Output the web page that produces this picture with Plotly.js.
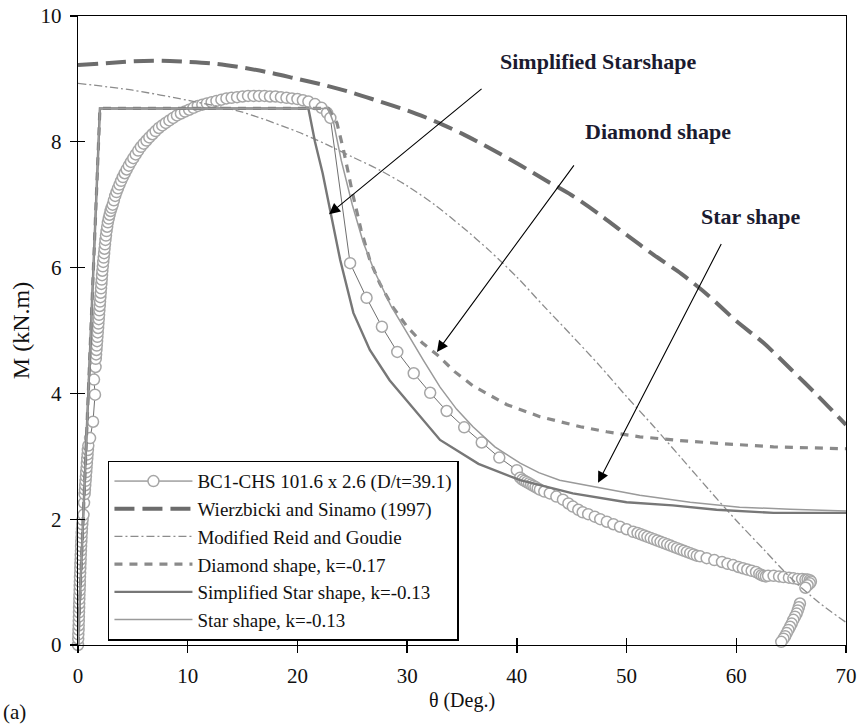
<!DOCTYPE html>
<html><head><meta charset="utf-8">
<script src="https://cdn.plot.ly/plotly-3.0.1.min.js"></script>
<style>html,body{margin:0;padding:0;background:#fff}#chart{width:857px;height:725px}</style>
</head><body><div id="chart"></div>
<script>
// ---------- data ----------
const xTicks = [0,10,20,30,40,50,60,70];
const yTicks = [0,2,4,6,8,10];

const expName = 'BC1-CHS 101.6 x 2.6 (D/t=39.1)';
const expTheta = [0,0.02,0.03,0.05,0.06,0.07,0.08,0.09,0.1,0.11,0.12,0.13,0.15,0.16,0.17,0.18,0.2,0.21,0.22,0.24,0.25,0.27,0.28,0.3,0.32,0.34,0.36,0.39,0.42,
 0.5,0.55,0.6,0.63,0.66,0.69,0.72,0.75,0.78,0.81,0.84,0.87,0.9,0.94,
 1.1,1.37,1.55,1.46,1.6,
 1.62,1.65,1.68,1.71,1.74,1.77,1.8,1.83,1.86,1.89,1.92,1.95,1.98,2.01,2.04,2.07,2.1,2.13,2.16,2.19,2.22,2.26,2.3,2.34,2.38,2.42,2.46,2.5,2.55,2.6,2.66,2.72,2.8,2.88,2.97,3.06,
 3.16,3.27,3.39,3.51,3.64,3.78,3.93,4.09,4.26,4.44,4.63,4.83,5.04,5.26,5.49,5.73,5.98,6.24,6.5,6.78,7.07,7.37,7.68,8.0,8.33,8.67,9.02,9.38,9.75,10.13,10.52,10.92,11.33,11.75,12.18,12.62,13.07,13.53,14.0,14.5,15.0,15.5,16.0,16.5,17.0,17.5,18.0,18.5,19.0,19.5,20.0,20.5,21.0,21.6,22.2,22.7,23.0,
 24.8,26.3,27.7,29.1,30.6,32.1,33.6,35.2,36.8,38.4,40.0,
 40.3,40.5,40.7,40.9,41.1,41.3,41.5,41.7,41.9,42.1,42.5,43.0,43.6,44.2,44.7,45.1,45.6,46.0,46.5,47.1,47.6,48.2,48.8,49.4,50.0,50.6,51.0,51.3,51.6,51.9,52.2,52.5,52.8,53.1,53.4,53.7,54.0,54.3,54.6,54.9,55.2,55.5,55.8,56.1,56.4,56.7,57.3,58.0,58.7,59.2,59.7,60.2,60.6,61.0,61.4,61.8,62.1,62.3,62.5,62.7,62.9,63.4,63.9,64.3,64.8,65.2,65.6,66.0,66.3,66.5,66.7,66.8,66.7,66.5,66.3,
 null,
 65.8,65.7,65.6,65.5,65.35,65.2,65.05,64.9,64.75,64.6,64.45,64.3,64.1];
const expM = [0,0.1,0.17,0.24,0.31,0.38,0.45,0.52,0.59,0.66,0.73,0.8,0.87,0.94,1.01,1.08,1.15,1.22,1.29,1.36,1.43,1.5,1.57,1.64,1.71,1.78,1.85,1.92,1.99,
 2.07,2.26,2.4,2.47,2.54,2.61,2.68,2.75,2.82,2.89,2.96,3.03,3.1,3.17,
 3.29,3.55,3.98,4.22,4.42,
 4.55,4.62,4.69,4.76,4.83,4.9,4.97,5.04,5.11,5.18,5.25,5.32,5.39,5.46,5.53,5.6,5.67,5.74,5.81,5.88,5.95,6.02,6.09,6.16,6.23,6.3,6.37,6.44,6.51,6.58,6.65,6.72,6.78,6.84,6.9,6.95,
 7.0,7.07,7.14,7.2,7.26,7.32,7.38,7.44,7.5,7.56,7.62,7.68,7.74,7.8,7.86,7.92,7.97,8.02,8.07,8.12,8.17,8.22,8.26,8.3,8.34,8.38,8.42,8.45,8.48,8.51,8.54,8.57,8.59,8.61,8.63,8.65,8.67,8.69,8.7,8.71,8.72,8.73,8.73,8.73,8.73,8.72,8.72,8.71,8.7,8.69,8.68,8.66,8.64,8.6,8.54,8.46,8.38,
 6.07,5.52,5.06,4.66,4.32,4.01,3.72,3.46,3.22,2.98,2.78,
 2.66,2.63,2.61,2.59,2.57,2.55,2.53,2.51,2.49,2.47,2.44,2.41,2.36,2.31,2.25,2.2,2.15,2.11,2.08,2.04,2.0,1.96,1.92,1.88,1.84,1.8,1.78,1.76,1.74,1.72,1.7,1.68,1.66,1.64,1.62,1.6,1.58,1.56,1.54,1.52,1.5,1.48,1.46,1.44,1.42,1.41,1.38,1.35,1.32,1.29,1.27,1.24,1.22,1.2,1.18,1.16,1.13,1.11,1.1,1.09,1.1,1.1,1.09,1.08,1.07,1.06,1.05,1.05,1.04,1.04,1.03,1.01,0.98,0.95,0.91,
 null,
 0.66,0.6,0.55,0.5,0.45,0.4,0.34,0.29,0.24,0.19,0.14,0.1,0.05];

const wsName = 'Wierzbicki and Sinamo (1997)';
const wsTheta = [0,2.5,5,7.5,10,12.5,15,17.5,20,22.5,25,27.5,30,32.5,35,37.5,40,42.5,45,47.5,50,52.5,55,57.5,60,62.5,65,67.5,70];
const wsM     = [9.22,9.25,9.28,9.29,9.27,9.24,9.18,9.1,9.0,8.9,8.78,8.64,8.5,8.33,8.13,7.9,7.66,7.4,7.15,6.85,6.52,6.2,5.9,5.55,5.15,4.8,4.38,3.95,3.5];

const rgName = 'Modified Reid and Goudie';
const rgTheta = [0,5,10,15,20,22.5,25,27.5,30,32.5,35,37.5,40,42.5,45,47.5,50,52.5,55,57.5,60,62.5,65,67.5,70];
const rgM     = [8.93,8.82,8.66,8.47,8.16,7.97,7.76,7.55,7.3,7.0,6.65,6.27,5.85,5.38,4.92,4.45,3.95,3.47,2.97,2.47,1.98,1.52,1.06,0.68,0.36];

const dmName = 'Diamond shape, k=-0.17';
const dmTheta = [0,2.0,21.0,22.8,23.6,24.2,25.0,25.8,26.6,27.5,28.7,30.0,31.4,32.7,34.3,36.0,39.1,42.1,45.8,48.2,51.2,54.9,58.8,63.4,70];
const dmM     = [0,8.53,8.53,8.53,8.3,7.87,7.2,6.6,6.12,5.75,5.37,5.06,4.8,4.62,4.35,4.12,3.82,3.63,3.47,3.39,3.31,3.25,3.2,3.15,3.12];

const ssName = 'Simplified Star shape, k=-0.13';
const ssTheta = [0,2.0,21.0,21.6,22.3,23.0,23.9,25.1,26.6,28.4,30.9,33.0,36.5,40.3,45.1,50.0,54.2,58.2,63.4,70];
const ssM     = [0,8.53,8.53,8.0,7.5,6.87,6.12,5.28,4.69,4.21,3.69,3.26,2.88,2.62,2.41,2.27,2.22,2.15,2.1,2.1];

const stName = 'Star shape, k=-0.13';
const stTheta = [0,2.0,22.8,23.3,24.0,25.0,26.0,27.0,28.5,30.0,31.5,33.0,34.5,36.0,38.0,40.3,42.0,43.9,47.3,51.2,55.8,60.3,64.9,70];
const stM     = [0,8.53,8.53,8.3,7.7,7.0,6.4,5.95,5.4,4.95,4.52,4.1,3.75,3.47,3.15,2.89,2.74,2.62,2.51,2.38,2.27,2.19,2.16,2.13];

// ---------- chart ----------
const FONT = 'Liberation Serif, Times New Roman, serif';
const traces = [
  {name: expName, x: expTheta, y: expM, type:'scatter', mode:'lines+markers', cliponaxis:false,
   line:{color:'#6f6f6f', width:1}, connectgaps:false,
   marker:{symbol:'circle', size:11, color:'#ffffff', line:{color:'#a6a6a6', width:1.5}}},
  {name: wsName, x: wsTheta, y: wsM, type:'scatter', mode:'lines',
   line:{color:'#6c6c6c', width:4, dash:'20px,8px', shape:'spline', smoothing:0.8}},
  {name: rgName, x: rgTheta, y: rgM, type:'scatter', mode:'lines',
   line:{color:'#8c8c8c', width:1.3, dash:'8px,3px,2px,3px', shape:'spline', smoothing:0.8}},
  {name: dmName, x: dmTheta, y: dmM, type:'scatter', mode:'lines',
   line:{color:'#8a8a8a', width:3.2, dash:'8px,7px'}},
  {name: ssName, x: ssTheta, y: ssM, type:'scatter', mode:'lines',
   line:{color:'#777777', width:2.4}},
  {name: stName, x: stTheta, y: stM, type:'scatter', mode:'lines',
   line:{color:'#9a9a9a', width:1.5}},
  {x:[null], y:[null], xaxis:'x2', yaxis:'y2', showlegend:false, hoverinfo:'skip', mode:'lines'}
];

const axBase = {showgrid:false, zeroline:false, tickcolor:'#000', tickwidth:1.3, ticklen:7};
const layout = {
  width:857, height:725,
  margin:{l:78, r:11, t:16, b:80},
  paper_bgcolor:'#ffffff', plot_bgcolor:'#ffffff',
  font:{family:FONT, size:21, color:'#111'},
  showlegend:true,
  legend:{x:0.039, y:0.293, xanchor:'left', yanchor:'top', bgcolor:'#ffffff',
          bordercolor:'#000', borderwidth:1.5, font:{family:FONT, size:19, color:'#111'},
          itemwidth:78, tracegroupgap:0},
  xaxis:Object.assign({}, axBase, {range:[0,70], tickvals:xTicks, ticktext:xTicks.map(String), ticks:'outside',
          showline:true, linecolor:'#000', linewidth:1.3, mirror:true, ticklabelstandoff:4,
          tickfont:{family:FONT, size:21, color:'#111'},
          title:{text:'θ (Deg.)', font:{family:FONT, size:20, color:'#111'}, standoff:6}}),
  yaxis:Object.assign({}, axBase, {range:[0,10], tickvals:yTicks, ticktext:yTicks.map(String), ticks:'outside',
          showline:true, linecolor:'#000', linewidth:1.3, mirror:true, ticklabelstandoff:4,
          tickfont:{family:FONT, size:21, color:'#111'},
          title:{text:'M (kN.m)', font:{family:FONT, size:24, color:'#111'}, standoff:4}}),
  xaxis2:Object.assign({}, axBase, {overlaying:'x', anchor:'y', range:[0,70], tickvals:xTicks, ticks:'inside',
          showticklabels:false, showline:false}),
  yaxis2:Object.assign({}, axBase, {overlaying:'y', anchor:'x', range:[0,10], tickvals:yTicks, ticks:'inside',
          showticklabels:false, showline:false}),
  annotations:[
    {x:22.88, y:6.85, ax:36.92, ay:8.86, xref:'x', yref:'y', axref:'x', ayref:'y', text:'', showarrow:true,
     arrowhead:2, arrowsize:2, arrowwidth:1.1, arrowcolor:'#000', standoff:0, startstandoff:0},
    {x:32.72, y:4.66, ax:45.30, ay:7.65, xref:'x', yref:'y', axref:'x', ayref:'y', text:'', showarrow:true,
     arrowhead:2, arrowsize:2, arrowwidth:1.1, arrowcolor:'#000', standoff:0, startstandoff:0},
    {x:47.40, y:2.58, ax:58.70, ay:6.40, xref:'x', yref:'y', axref:'x', ayref:'y', text:'', showarrow:true,
     arrowhead:2, arrowsize:2, arrowwidth:1.1, arrowcolor:'#000', standoff:0, startstandoff:0},
    {x:47.4, y:9.28, xref:'x', yref:'y', text:'<b>Simplified Starshape</b>', showarrow:false,
     font:{family:FONT, size:22, color:'#1b1b30'}},
    {x:52.87, y:8.16, xref:'x', yref:'y', text:'<b>Diamond shape</b>', showarrow:false,
     font:{family:FONT, size:22, color:'#1b1b30'}},
    {x:61.25, y:6.81, xref:'x', yref:'y', text:'<b>Star shape</b>', showarrow:false,
     font:{family:FONT, size:22, color:'#1b1b30'}},
    {x:-0.1003, y:-0.107, xref:'paper', yref:'paper', xanchor:'left', yanchor:'middle', text:'(a)', showarrow:false,
     font:{family:FONT, size:21, color:'#111'}}
  ]
};

Plotly.newPlot('chart', traces, layout, {displayModeBar:false, staticPlot:true});
</script></body></html>
